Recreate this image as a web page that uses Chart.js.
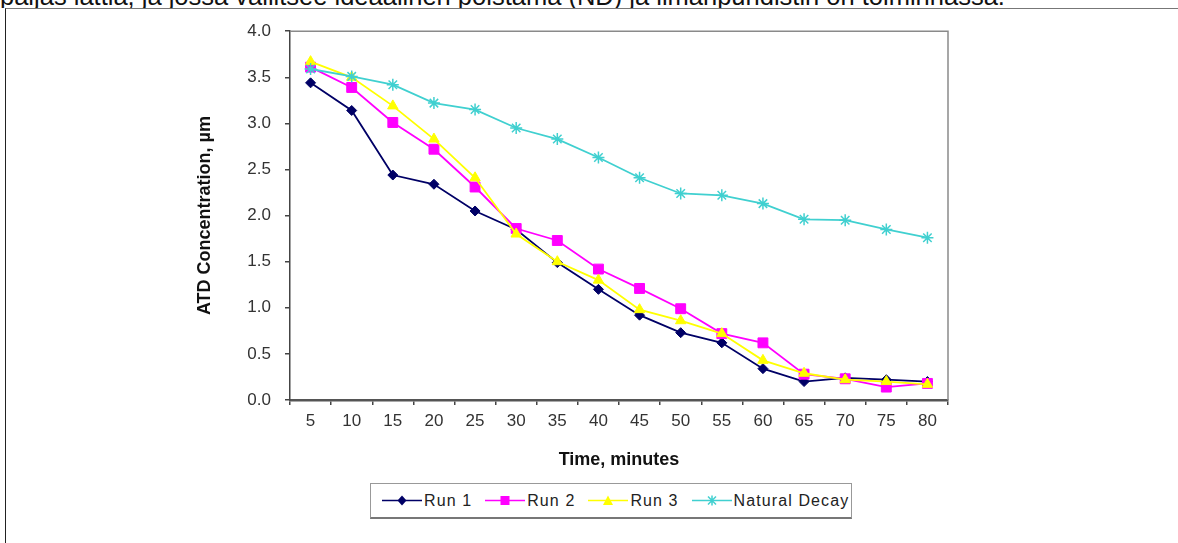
<!DOCTYPE html>
<html>
<head>
<meta charset="utf-8">
<script src="https://cdn.jsdelivr.net/npm/chart.js@4/dist/chart.umd.min.js"></script>
<style>
  body { margin: 0; background: #fff; font-family: "Liberation Sans", Arial, sans-serif; }
  #page { position: relative; width: 1178px; height: 543px; overflow: hidden; }
  #caption { position: absolute; left: 0; top: 0; width: 1178px; height: 8px; overflow: hidden; }
  #caption span { position: absolute; left: 0; top: -16px; font-size: 25.5px; line-height: 25px; color: #111; white-space: nowrap; }
  #frame { position: absolute; left: 5px; top: 8px; right: 0; bottom: 0; border-top: 1px solid #777; border-left: 1px solid #222; }
  #wrap { position: absolute; left: 190px; top: 7px; width: 770px; height: 468px; }
  #legend { position: absolute; left: 370px; top: 483px; width: 480px; height: 33px; border: 1px solid #999; border-bottom: 2px solid #777;
            display: flex; align-items: center; font-size: 16px; letter-spacing: 1.1px; color: #222; white-space: nowrap; overflow: hidden; }
  #legend .item { display: flex; align-items: center; flex-shrink: 0; margin-left: 11px; }
  #legend .item + .item { margin-left: 13px; }
  #legend svg { margin-right: 2px; flex-shrink: 0; }
</style>
</head>
<body>
<div id="page">
  <div id="caption"><span>paljas lattia, ja jossa vallitsee ideaalinen poistama (ND) ja ilmanpuhdistin on toiminnassa.</span></div>
  <div id="frame"></div>
  <div id="wrap"><canvas id="decayChart"></canvas></div>
  <div id="legend"></div>
</div>
<script>
const times = ["5", "10", "15", "20", "25", "30", "35", "40", "45", "50", "55", "60", "65", "70", "75", "80"];
const run1 = [3.44, 3.14, 2.44, 2.34, 2.05, 1.85, 1.49, 1.2, 0.92, 0.73, 0.62, 0.34, 0.2, 0.24, 0.22, 0.2];
const run2 = [3.61, 3.39, 3.01, 2.72, 2.31, 1.86, 1.73, 1.42, 1.21, 0.99, 0.72, 0.62, 0.28, 0.23, 0.14, 0.18];
const run3 = [3.67, 3.5, 3.19, 2.83, 2.41, 1.8, 1.5, 1.3, 0.98, 0.86, 0.72, 0.43, 0.29, 0.22, 0.2, 0.17];
const naturalDecay = [3.59, 3.51, 3.42, 3.22, 3.15, 2.95, 2.83, 2.63, 2.41, 2.24, 2.22, 2.13, 1.96, 1.95, 1.85, 1.76];
const yTicks = [0, 0.5, 1, 1.5, 2, 2.5, 3, 3.5, 4];

const series = [
  { label: "Run 1", data: run1, color: "#000066", style: "rectRot", radius: 5, order: 4 },
  { label: "Run 2", data: run2, color: "#FF00FF", style: "rect", radius: 7, order: 3 },
  { label: "Run 3", data: run3, color: "#FFFF00", style: "triangle", radius: 6, order: 2 },
  { label: "Natural Decay", data: naturalDecay, color: "#40D0D0", style: "star", radius: 6, order: 1 }
];

const FONT = "'Liberation Sans', Arial, sans-serif";

// grey frame on top/right of the plot area, like the excel chart
const plotFrame = {
  id: "plotFrame",
  beforeDatasetsDraw(chart) {
    const { ctx, chartArea: a } = chart;
    ctx.save();
    ctx.strokeStyle = "#8a8a8a";
    ctx.lineWidth = 1.5;
    ctx.beginPath();
    ctx.moveTo(a.left, a.top);
    ctx.lineTo(a.right, a.top);
    ctx.lineTo(a.right, a.bottom);
    ctx.stroke();
    ctx.restore();
  }
};

new Chart(document.getElementById("decayChart"), {
  type: "line",
  data: {
    labels: times,
    datasets: series.map(s => ({
      label: s.label,
      data: s.data,
      borderColor: s.color,
      backgroundColor: s.color,
      pointBorderColor: s.color,
      pointBackgroundColor: s.color,
      pointStyle: s.style,
      pointRadius: s.radius,
      pointBorderWidth: s.style === "star" ? 1.5 : 1,
      borderWidth: 1.8,
      tension: 0,
      order: s.order
    }))
  },
  options: {
    responsive: true,
    maintainAspectRatio: false,
    animation: false,
    layout: { padding: { top: 0, right: 12, left: 0, bottom: 0 } },
    plugins: { legend: { display: false }, tooltip: { enabled: false } },
    scales: {
      x: {
        offset: true,
        grid: { offset: true, drawOnChartArea: false, drawTicks: true, tickLength: 5, color: "#444", lineWidth: 1.5 },
        border: { color: "#555", width: 2.5 },
        ticks: { color: "#333", font: { family: FONT, size: 17 }, padding: 6, maxRotation: 0 },
        title: { display: true, text: "Time, minutes", color: "#111", font: { family: FONT, size: 18, weight: "bold" }, padding: { top: 4, bottom: 4 } },
        afterFit: scale => { scale.height = 75; }
      },
      y: {
        min: 0,
        max: 4,
        afterBuildTicks: scale => { scale.ticks = yTicks.map(v => ({ value: v })); },
        grid: { drawOnChartArea: false, drawTicks: true, tickLength: 5, color: "#444", lineWidth: 1.5 },
        border: { color: "#444", width: 1.5 },
        ticks: { color: "#333", font: { family: FONT, size: 17 }, padding: 14, callback: v => v.toFixed(1) },
        title: { display: true, text: "ATD Concentration, µm", color: "#111", font: { family: FONT, size: 18, weight: "bold" }, padding: { top: 4, bottom: 4 } },
        afterFit: scale => { scale.width = 100; }
      }
    }
  },
  plugins: [plotFrame]
});

// legend drawn as html: line with marker, like excel
function markerSvg(s) {
  const c = s.color;
  let mark = "";
  if (s.style === "rectRot") mark = `<polygon points="20,2.5 24.5,7.5 20,12.5 15.5,7.5" fill="${c}"/>`;
  else if (s.style === "rect") mark = `<rect x="15.5" y="3" width="9" height="9" fill="${c}"/>`;
  else if (s.style === "triangle") mark = `<polygon points="20,2.5 25,12 15,12" fill="${c}"/>`;
  else mark = `<path d="M16,3.5 L24,11.5 M24,3.5 L16,11.5 M20,2.5 L20,12.5" stroke="${c}" stroke-width="1.5"/>`;
  return `<svg width="40" height="15"><line x1="0" y1="7.5" x2="40" y2="7.5" stroke="${c}" stroke-width="1.5"/>${mark}</svg>`;
}
document.getElementById("legend").innerHTML = series
  .map(s => `<span class="item">${markerSvg(s)}<span>${s.label}</span></span>`)
  .join("");
</script>
</body>
</html>
